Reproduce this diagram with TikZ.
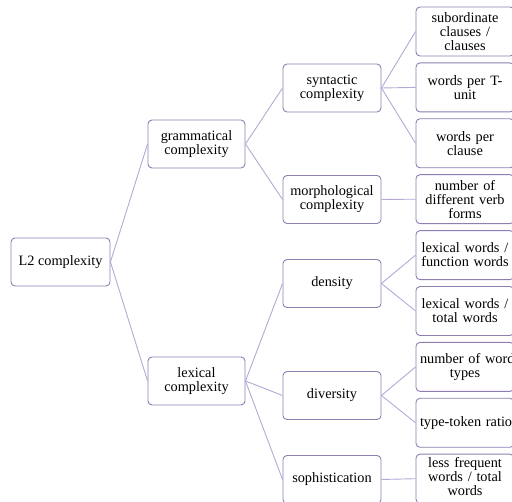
\documentclass[tikz,border=0pt]{standalone}
\usepackage{fontspec}
\setmainfont{Liberation Serif}
\usepackage{tikz}
\usetikzlibrary{positioning}
\definecolor{marco}{RGB}{142,126,178}
\definecolor{linea}{RGB}{182,168,212}
\tikzstyle{concept} = [draw=marco, line width=0.9pt, rectangle, rounded corners=4pt, align=center, minimum width=98pt, minimum height=48pt, inner sep=2pt, font=\fontsize{14.3}{14}\selectfont]
\tikzstyle{measure} = [concept, text width=90pt, inner xsep=1pt, minimum height=49pt]
\tikzstyle{branch} = [draw=linea, line width=0.9pt]

\begin{document}
\begin{tikzpicture}[x=1pt, y=-1pt]
	\useasboundingbox (0,0) rectangle (512,502);
	\clip (0,0) rectangle (512,502);
	\node [measure] (sub) at (465,31.5) {subordinate\\clauses /\\clauses};
	\node [measure, below=6pt of sub] (wpt) {words per T-\\unit};
	\node [measure, below=6pt of wpt] (wpc) {words per\\clause};
	\node [measure, below=6pt of wpc] (verb) {number of\\\mbox{different verb}\\forms};
	\node [measure, below=6pt of verb] (lexfun) {\mbox{lexical words /}\\\mbox{function words}};
	\node [measure, below=6pt of lexfun] (lextot) {\mbox{lexical words /}\\total words};
	\node [measure, below=6pt of lextot] (types) {\mbox{number of words}\\types};
	\node [measure, below=6pt of types] (ttr) {\mbox{type-token ratio}};
	\node [measure, below=6pt of ttr, inner ysep=0pt] (freq) {less frequent\\words / total\\words\vspace{4pt}};
	\node [concept] (syn) at (332,88) {syntactic\\complexity};
	\node [concept] (morph) at (332,199.5) {morphological\\complexity};
	\node [concept] (dens) at (332,283.5) {density};
	\node [concept] (div) at (332,395.5) {diversity};
	\node [concept] (soph) at (332,479.5) {sophistication};
	\node [concept, minimum width=97pt] (gram) at (196.5,144) {grammatical\\complexity};
	\node [concept, minimum width=97pt] (lex) at (196.5,381) {lexical\\complexity};
	\node [concept, minimum width=99pt] (l2) at (60.5,262) {L2 complexity};
	\draw [branch] (l2.east) -- (gram.west);
	\draw [branch] (l2.east) -- (lex.west);
	\draw [branch] (gram.east) -- (syn.west);
	\draw [branch] (gram.east) -- (morph.west);
	\draw [branch] (lex.east) -- (dens.west);
	\draw [branch] (lex.east) -- (div.west);
	\draw [branch] (lex.east) -- (soph.west);
	\draw [branch] (syn.east) -- (sub.west);
	\draw [branch] (syn.east) -- (wpt.west);
	\draw [branch] (syn.east) -- (wpc.west);
	\draw [branch] (morph.east) -- (verb.west);
	\draw [branch] (dens.east) -- (lexfun.west);
	\draw [branch] (dens.east) -- (lextot.west);
	\draw [branch] (div.east) -- (types.west);
	\draw [branch] (div.east) -- (ttr.west);
	\draw [branch] (soph.east) -- (freq.west);
\end{tikzpicture}
\end{document}
